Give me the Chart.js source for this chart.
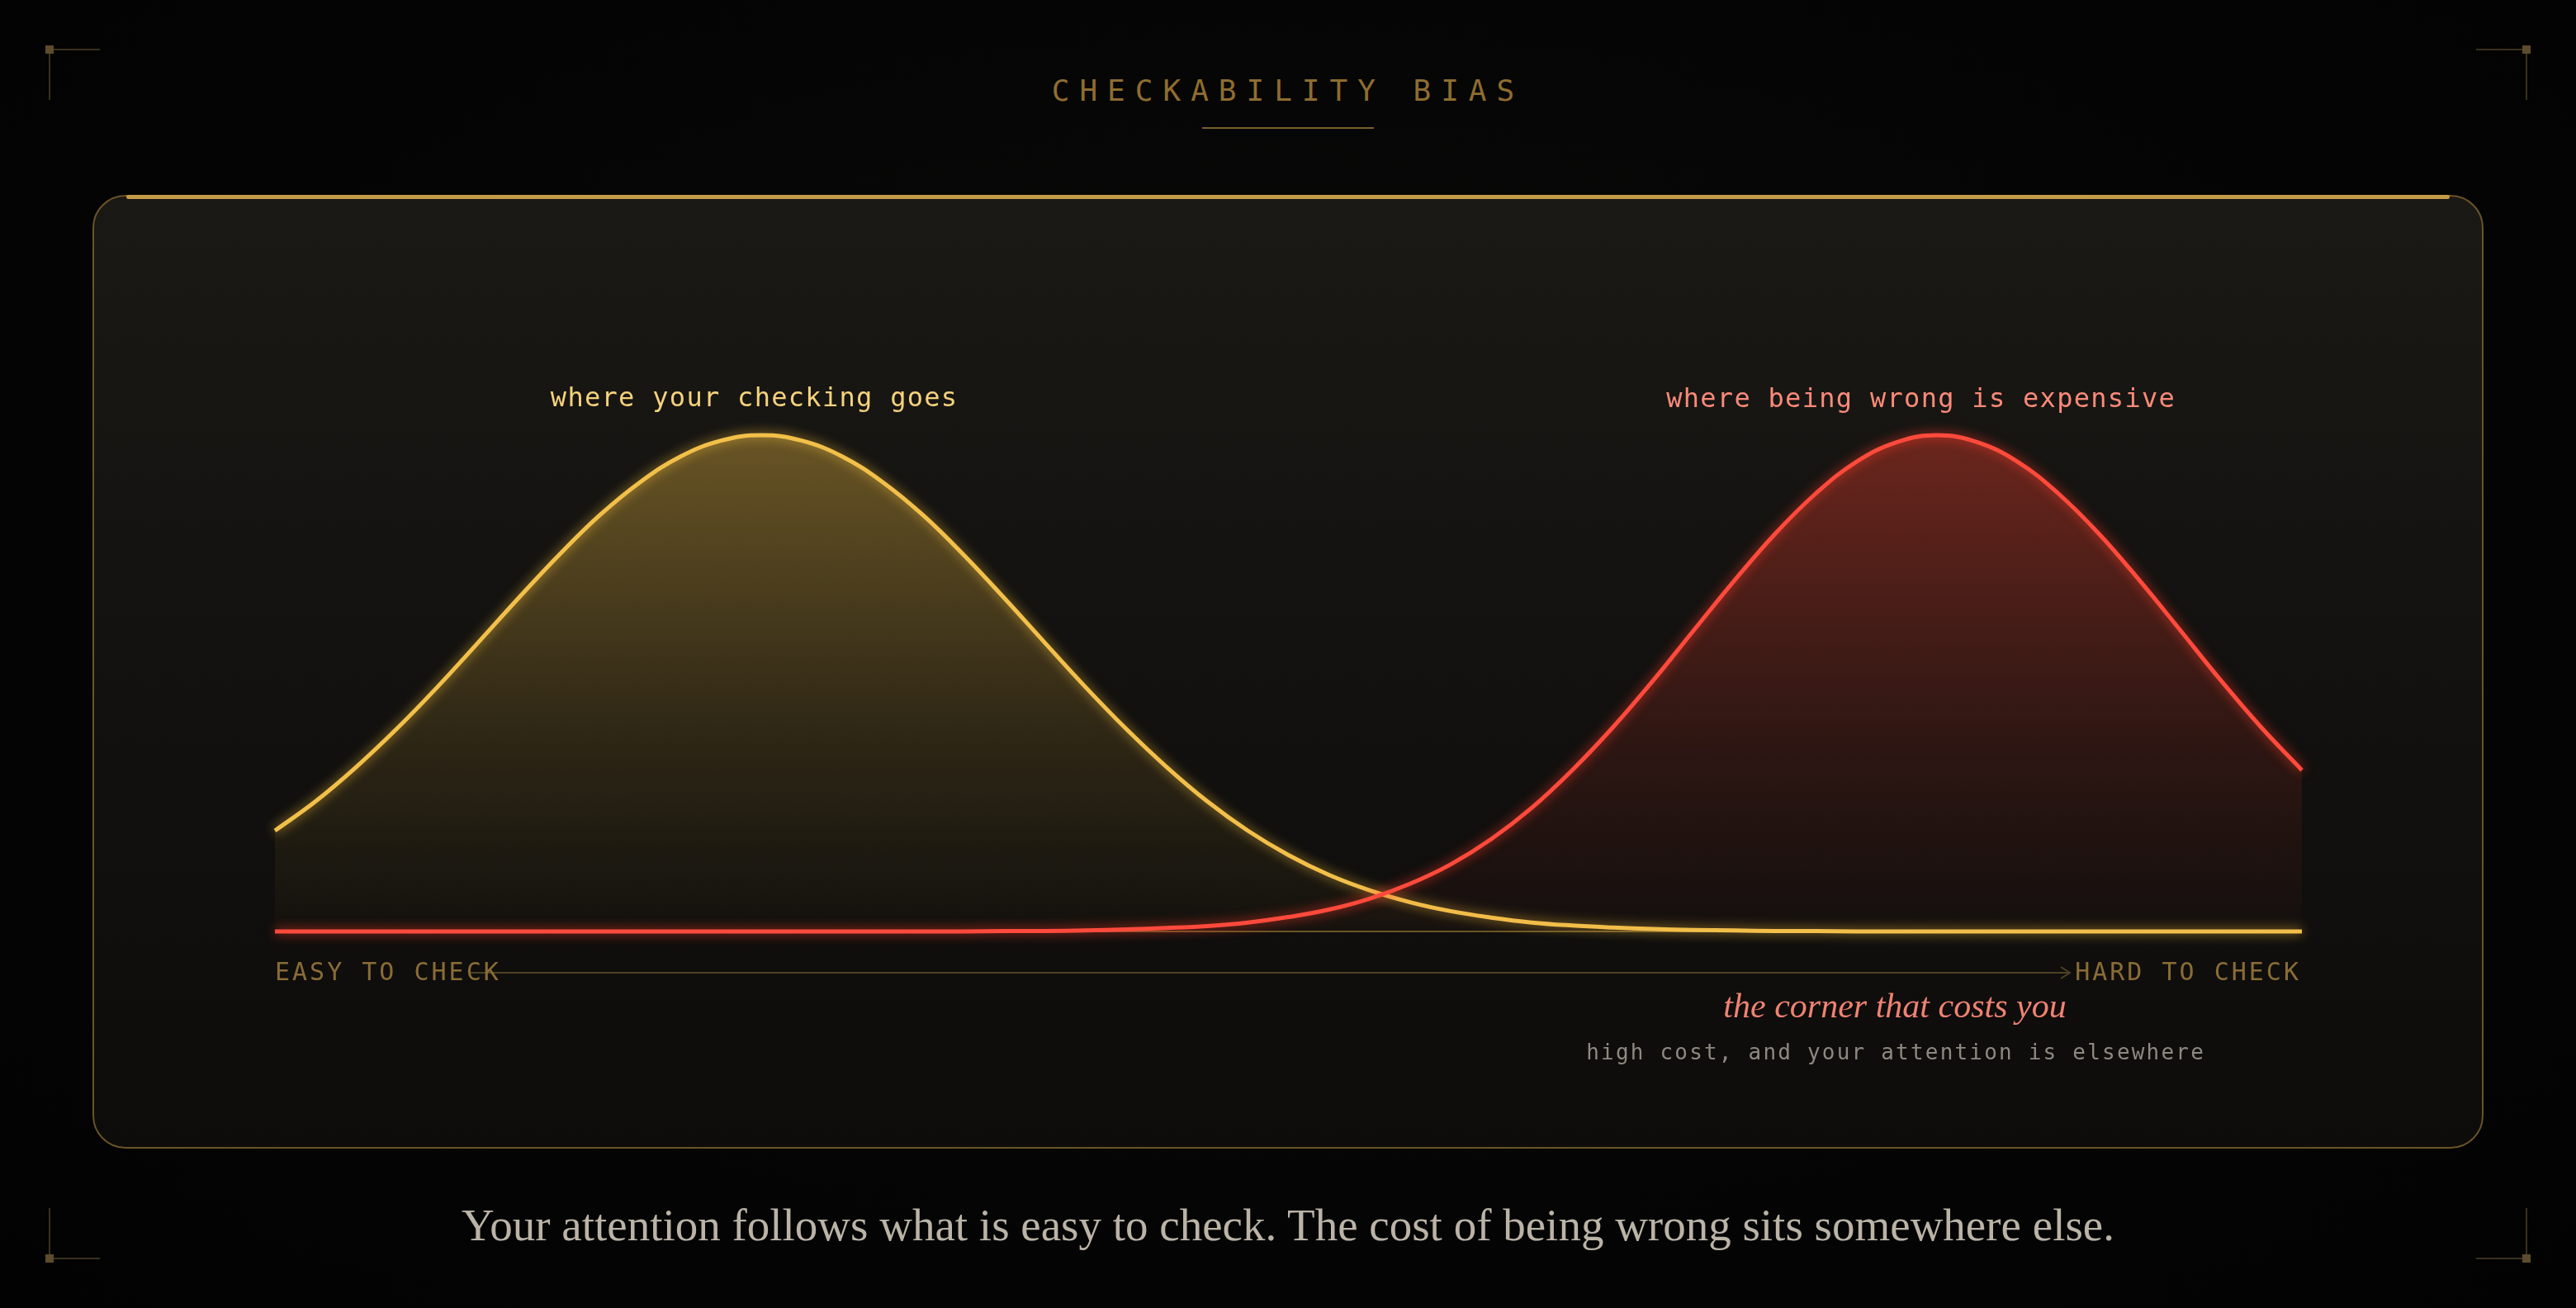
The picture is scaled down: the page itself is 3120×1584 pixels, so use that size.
<!DOCTYPE html>
<html>
<head>
<meta charset="utf-8">
<script src="https://cdn.jsdelivr.net/npm/chart.js@4.4.1/dist/chart.umd.min.js"></script>
<style>
    html, body { margin: 0; padding: 0; background: #040404; }
    #stage { position: relative; width: 3120px; height: 1584px; overflow: hidden;
        background: radial-gradient(ellipse at 50% 45%, #0a0a09 0%, #050505 60%, #020202 100%); }
    .card { position: absolute; left: 112px; top: 236px; width: 2896px; height: 1155px; box-sizing: border-box;
        border: 2px solid #6a5329; border-radius: 40px;
        background: linear-gradient(180deg, #1a1915 0%, #131210 45%, #0d0c0b 100%); }
    .topbar { position: absolute; left: 153px; top: 236px; width: 2814px; height: 5px; border-radius: 3px; background: #c49b48; }
    .mark { position: absolute; background: #3a3020; }
    .dot { position: absolute; width: 10px; height: 10px; background: #5c4c2c; }
    .txt { position: absolute; white-space: nowrap; line-height: 1; }
    .mono { font-family: "DejaVu Sans Mono", monospace; }
    .serif { font-family: "Liberation Serif", serif; }
    .center { transform: translateX(-50%); }
    canvas { position: absolute; left: 0; top: 0; }
</style>
</head>
<body>
<div id="stage">
    <div class="mark" style="left:60px;top:59px;width:61px;height:2px"></div>
    <div class="mark" style="left:59px;top:60px;width:2px;height:61px"></div>
    <div class="dot" style="left:55px;top:55px"></div>
    <div class="mark" style="left:2999px;top:59px;width:61px;height:2px"></div>
    <div class="mark" style="left:3059px;top:60px;width:2px;height:61px"></div>
    <div class="dot" style="left:3055px;top:55px"></div>
    <div class="mark" style="left:60px;top:1523px;width:61px;height:2px"></div>
    <div class="mark" style="left:59px;top:1463px;width:2px;height:61px"></div>
    <div class="dot" style="left:55px;top:1519px"></div>
    <div class="mark" style="left:2999px;top:1523px;width:61px;height:2px"></div>
    <div class="mark" style="left:3059px;top:1463px;width:2px;height:61px"></div>
    <div class="dot" style="left:3055px;top:1519px"></div>

    <div class="txt mono center" style="left:1554px;top:92px;font-size:36px;letter-spacing:12px;padding-left:12px;color:#8f6d30">CHECKABILITY BIAS</div>
    <div style="position:absolute;left:1456px;top:154px;width:208px;height:2px;background:#7a5e2c"></div>

    <div class="card"></div>
    <div class="topbar"></div>

    <canvas id="chart" width="3120" height="1584"></canvas>

    <div class="txt mono center" style="left:913px;top:465px;font-size:32px;letter-spacing:1.3px;padding-left:1.3px;color:#f6d27c">where your checking goes</div>
    <div class="txt mono center" style="left:2326px;top:466px;font-size:32px;letter-spacing:1.3px;padding-left:1.3px;color:#fb8a79">where being wrong is expensive</div>

    <svg style="position:absolute;left:0;top:0" width="3120" height="1584">
        <line x1="570" y1="1178" x2="2506" y2="1178" stroke="#4e4124" stroke-width="2"/>
        <polyline points="2496,1171 2507,1178 2496,1185" fill="none" stroke="#4e4124" stroke-width="2"/>
    </svg>
    <div class="txt mono" style="left:333px;top:1162px;font-size:30px;letter-spacing:3px;color:#8a6c36">EASY TO CHECK</div>
    <div class="txt mono" style="right:333px;top:1162px;font-size:30px;letter-spacing:3px;color:#8a6c36">HARD TO CHECK</div>

    <div class="txt serif center" style="left:2295px;top:1197px;font-size:42px;font-style:italic;color:#f08272">the corner that costs you</div>
    <div class="txt mono center" style="left:2295px;top:1261px;font-size:26px;letter-spacing:2.2px;padding-left:2.2px;color:#8e8980">high cost, and your attention is elsewhere</div>

    <div class="txt serif center" style="left:1560px;top:1456px;font-size:55px;color:#bab3a6">Your attention follows what is easy to check. The cost of being wrong sits somewhere else.</div>
</div>

<script>
// position along the axis, 0 = easy to check, 100 = hard to check (every 2 units)
const position = [0, 2, 4, 6, 8, 10, 12, 14, 16, 18, 20, 22, 24, 26, 28, 30, 32, 34, 36, 38, 40, 42, 44, 46, 48,
    50, 52, 54, 56, 58, 60, 62, 64, 66, 68, 70, 72, 74, 76, 78, 80, 82, 84, 86, 88, 90, 92, 94, 96, 98, 100];

// where your checking goes (yellow)
const checkingEffort = [0.203, 0.262, 0.331, 0.408, 0.492, 0.581, 0.671, 0.758, 0.838, 0.905, 0.957, 0.989, 1.000,
    0.989, 0.957, 0.905, 0.838, 0.758, 0.671, 0.581, 0.492, 0.408, 0.331, 0.262, 0.203,
    0.154, 0.114, 0.083, 0.059, 0.041, 0.028, 0.018, 0.012, 0.008, 0.005, 0.003, 0.002, 0.001, 0.001,
    0, 0, 0, 0, 0, 0, 0, 0, 0, 0, 0, 0];

// where being wrong is expensive (red)
const costOfError = [0, 0, 0, 0, 0, 0, 0, 0, 0, 0, 0, 0, 0, 0, 0, 0, 0, 0,
    0.001, 0.001, 0.002, 0.004, 0.007, 0.011, 0.018, 0.029, 0.044, 0.066, 0.096, 0.135, 0.186, 0.249, 0.325,
    0.411, 0.506, 0.607, 0.707, 0.801, 0.882, 0.946, 0.986, 1.000, 0.986, 0.946, 0.882, 0.801, 0.707, 0.607,
    0.506, 0.411, 0.325];

const toPoints = (values) => position.map((x, i) => ({ x, y: values[i] }));

const fillGradient = (chart, rgb, topAlpha) => {
    const { ctx, chartArea, scales } = chart;
    if (!chartArea) return 'transparent';
    const g = ctx.createLinearGradient(0, scales.y.getPixelForValue(1), 0, scales.y.getPixelForValue(0));
    g.addColorStop(0, `rgba(${rgb}, ${topAlpha})`);
    g.addColorStop(0.6, `rgba(${rgb}, ${topAlpha * 0.35})`);
    g.addColorStop(1, `rgba(${rgb}, 0.02)`);
    return g;
};

const glowPlugin = {
    id: 'glow',
    beforeDatasetDraw(chart, args) {
        const ds = chart.data.datasets[args.index];
        chart.ctx.save();
        chart.ctx.shadowColor = ds.glowColor;
        chart.ctx.shadowBlur = 14;
    },
    afterDatasetDraw(chart) {
        chart.ctx.restore();
    }
};

const baselinePlugin = {
    id: 'baseline',
    beforeDatasetsDraw(chart) {
        const { ctx, chartArea, scales } = chart;
        const y = scales.y.getPixelForValue(0);
        ctx.save();
        ctx.strokeStyle = '#6a5428';
        ctx.lineWidth = 2;
        ctx.beginPath();
        ctx.moveTo(chartArea.left, y);
        ctx.lineTo(chartArea.right, y);
        ctx.stroke();
        ctx.restore();
    }
};

new Chart(document.getElementById('chart'), {
    type: 'line',
    data: {
        datasets: [
            {
                label: 'where being wrong is expensive',
                data: toPoints(costOfError),
                borderColor: '#ff4a3c',
                backgroundColor: (c) => fillGradient(c.chart, '225, 62, 45', 0.42),
                glowColor: 'rgba(255, 60, 40, 0.85)'
            },
            {
                label: 'where your checking goes',
                data: toPoints(checkingEffort),
                borderColor: '#f2c04a',
                backgroundColor: (c) => fillGradient(c.chart, '205, 162, 60', 0.45),
                glowColor: 'rgba(245, 190, 60, 0.8)'
            }
        ].map(ds => ({ ...ds, borderWidth: 5, fill: 'origin', pointRadius: 0, tension: 0.4, clip: false }))
    },
    options: {
        responsive: false,
        animation: false,
        layout: { padding: { left: 333, right: 332, top: 467, bottom: 456 } },
        plugins: { legend: { display: false }, tooltip: { enabled: false } },
        scales: {
            x: { type: 'linear', min: 0, max: 100, display: false },
            y: { min: 0, max: 1.1, display: false }
        }
    },
    plugins: [baselinePlugin, glowPlugin]
});
</script>
</body>
</html>
